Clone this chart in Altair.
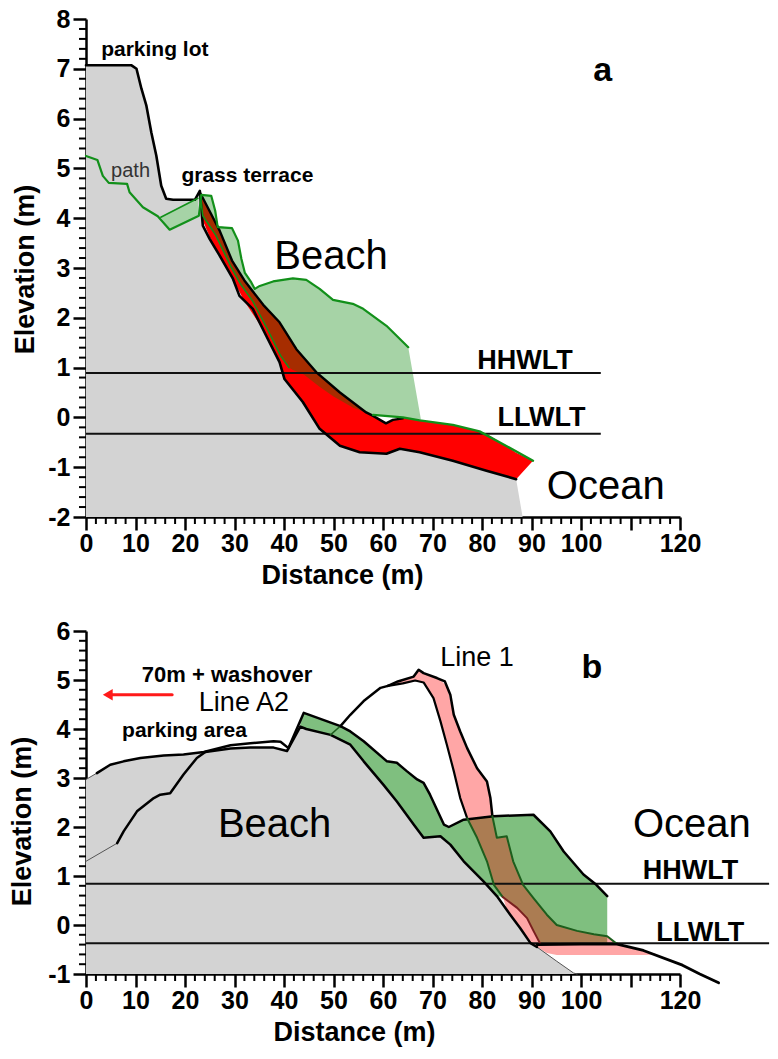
import altair as alt
import pandas as pd

FONT = "Liberation Sans"

# ---------------- axis ticks ----------------
X_MAJOR = [0, 10, 20, 30, 40, 50, 60, 70, 80, 90, 100, 110, 120]
X_MINOR = [v for v in range(2, 120, 2) if v % 10 != 0]
A_Y_MAJOR = [-2, -1, 0, 1, 2, 3, 4, 5, 6, 7, 8]
A_Y_MINOR = [round(-2 + 0.2 * k, 1) for k in range(1, 50) if k % 5 != 0]
B_Y_MAJOR = [-1, 0, 1, 2, 3, 4, 5, 6]
B_Y_MINOR = [round(-1 + 0.2 * k, 1) for k in range(1, 35) if k % 5 != 0]

# ---------------- panel a data ----------------
A_L_X = [0, 9.2, 10.2, 11.2, 12.2, 13.2, 14.2, 15.2, 16.2, 17.6, 22.0, 23.0, 23.6, 25.0, 27.0, 29.7,
         31.0, 33.7, 36.4, 39.1, 40.1, 43.8, 47.2, 51.3, 55.3, 60.7, 63.4, 67.4, 74.1, 80.9, 86.9]
A_L_Y = [7.07, 7.07, 7.0, 6.6, 6.26, 5.72, 5.26, 4.65, 4.39, 4.37, 4.37, 4.55, 3.85, 3.58, 3.25, 2.78,
         2.44, 2.18, 1.64, 1.11, 0.77, 0.31, -0.23, -0.57, -0.70, -0.73, -0.63, -0.70, -0.87, -1.07, -1.24]
A_GRAY_END_X = [88.2]
A_GRAY_END_Y = [-2.0]

A_RED_X = [23.0, 23.4, 25.3, 27.0, 29.5, 32.0, 35.8, 39.1, 40.1, 42.5, 43.8, 46.5, 47.2, 51.3, 55.3,
           56.6, 58.0, 60.6, 62.0, 63.4, 64.0, 67.4, 74.1, 79.5, 80.9, 85.0, 86.9, 90.3]
A_RED_TOP = [4.55, 4.42, 4.08, 3.75, 3.15, 2.75, 2.26, 1.91, 1.75, 1.37, 1.22, 0.91, 0.85, 0.50, 0.20,
             0.10, 0.03, -0.12, -0.05, -0.03, 0.0, -0.06, -0.15, -0.28, -0.33, -0.58, -0.71, -0.87]
A_RED_BOT = [4.55, 4.0, 3.55, 3.25, 2.8, 2.33, 1.76, 1.11, 0.77, 0.45, 0.31, -0.12, -0.23, -0.57, -0.70,
             -0.71, -0.72, -0.73, -0.68, -0.63, -0.64, -0.70, -0.87, -1.03, -1.07, -1.19, -1.24, -0.87]

A_GRN_X = [23.1, 23.6, 25.3, 26.2, 26.6, 29.3, 30.7, 31.4, 32.1, 33.4, 34.1, 35.1, 36.4, 37.8, 39.3,
           41.0, 41.8, 44.0, 47.1, 50.0, 53.9, 56.0, 58.0, 60.7, 64.0, 65.1, 67.7]
A_GRN_TOP = [4.45, 4.46, 4.44, 4.15, 3.85, 3.8, 3.55, 3.18, 2.9, 2.71, 2.58, 2.64, 2.69, 2.73, 2.76,
             2.78, 2.79, 2.77, 2.6, 2.36, 2.28, 2.18, 2.05, 1.84, 1.52, 1.41, -0.06]
A_GRN_BOT = [4.45, 4.05, 3.8, 3.66, 3.58, 3.02, 2.78, 2.66, 2.55, 2.38, 2.28, 2.08, 1.82, 1.55, 1.24,
             1.0, 0.95, 0.86, 0.62, 0.42, 0.2, 0.12, 0.05, 0.02, 0.0, -0.01, -0.06]

A_PATH_X = [15.1, 16.9, 22.6]
A_PATH_TOP = [4.02, 4.12, 4.4]
A_PATH_BOT = [4.02, 3.77, 4.05]

A_U_X = [23.1, 25.3, 27.0, 29.5, 32.0, 35.8, 39.1, 42.5, 46.5, 51.3, 56.6, 58.0, 60.6, 62.0, 64.0]
A_U_Y = [4.5, 4.08, 3.75, 3.15, 2.75, 2.26, 1.91, 1.37, 0.91, 0.50, 0.10, 0.03, -0.12, -0.05, -0.02]

A_GL_X = [0.0, 2.3, 3.4, 4.6, 8.3, 8.8, 11.5, 14.5, 16.9, 22.8, 23.3, 25.3, 26.1, 26.6, 29.5, 30.7,
          31.4, 32.1, 33.4, 34.1, 35.1, 37.8, 41.8, 44.5, 47.2, 49.9, 53.9, 56.0, 60.7, 65.1]
A_GL_Y = [5.25, 5.17, 4.85, 4.71, 4.69, 4.52, 4.22, 4.04, 3.77, 4.05, 4.47, 4.45, 4.15, 3.82, 3.8, 3.55,
          3.18, 2.9, 2.71, 2.58, 2.64, 2.73, 2.79, 2.76, 2.58, 2.36, 2.28, 2.18, 1.84, 1.41]
A_D_X = [23.1, 23.6, 26.2, 29.3, 31.2, 33.7, 36.4, 39.3, 41.0]
A_D_Y = [4.45, 4.05, 3.66, 3.02, 2.68, 2.33, 1.82, 1.24, 1.0]
A_UG_X = [58.0, 64.0, 67.4, 74.1, 79.5, 85.0, 90.3]
A_UG_Y = [0.05, 0.0, -0.06, -0.15, -0.28, -0.58, -0.87]
A_T_X = [15.1, 22.6]
A_T_Y = [4.02, 4.4]

A_TIDE_Y = [0.89, -0.33]
A_TIDE_END = 104

A_SMALL_T = ["parking lot", "grass terrace"]
A_SMALL_X = [13.9, 32.6]
A_SMALL_Y = [7.38, 4.85]
A_PATH_T = ["path"]
A_PATH_TX = [9.0]
A_PATH_TY = [4.95]
A_BIG_T = ["Beach", "Ocean"]
A_BIG_X = [49.5, 105.0]
A_BIG_Y = [3.22, -1.4]
A_TIDE_T = ["HHWLT", "LLWLT"]
A_TIDE_TX = [88.7, 92.0]
A_TIDE_TY = [1.14, -0.02]
A_LETTER = ["a"]
A_LETTER_X = [104.4]
A_LETTER_Y = [6.95]

# ---------------- panel b data ----------------
B_GRAY_X = [0, 2.2, 4.9, 7.6, 11.0, 15.7, 19.7, 24.1, 29.2, 33.2, 37.9, 40.6, 43.3, 44.5, 49.4, 53.4,
            56.1, 60.1, 62.8, 66.2, 68.2, 71.6, 73.6, 76.3, 80.3, 83.0, 85.7, 87.7, 89.8, 92.5, 95.1, 98.5, 99.2]
B_GRAY_Y = [2.97, 3.10, 3.27, 3.34, 3.41, 3.46, 3.48, 3.53, 3.60, 3.62, 3.62, 3.55, 4.05, 4.00, 3.88, 3.68,
            3.34, 2.86, 2.52, 2.05, 1.78, 1.81, 1.64, 1.30, 0.89, 0.59, 0.21, -0.06, -0.37, -0.54, -0.74, -0.98, -1.0]

B_GRN_X = [43.3, 44.0, 44.5, 49.4, 51.4, 53.4, 56.1, 60.1, 60.8, 62.8, 64.8, 66.2, 66.9, 68.2, 69.5,
           71.6, 72.3, 73.3, 73.6, 76.3, 80.3, 82.3, 83.0, 84.2, 87.1, 89.1, 90.4, 91.8, 93.8, 96.5,
           100.5, 103.1, 105.3]
B_GRN_TOP = [4.12, 4.33, 4.31, 4.13, 4.06, 3.95, 3.75, 3.4, 3.34, 3.31, 3.14, 3.03, 2.97, 2.90, 2.66,
             2.2, 2.05, 2.0, 2.02, 2.15, 2.2, 2.22, 2.22, 2.23, 2.24, 2.25, 2.25, 2.11, 1.91, 1.5,
             1.03, 0.82, 0.59]
B_GRN_BOT = [4.05, 4.02, 4.0, 3.88, 3.78, 3.68, 3.34, 2.86, 2.78, 2.52, 2.24, 2.05, 1.95, 1.78, 1.79,
             1.81, 1.75, 1.67, 1.64, 1.30, 0.89, 0.67, 0.59, 0.57, 0.35, 0.14, -0.12, -0.37, -0.37, -0.37,
             -0.37, -0.37, -0.37]

B_PINK_X = [61.0, 63.0, 66.2, 67.2, 68.2, 70.2, 71.6, 72.9, 74.3, 75.6, 77.0, 79.0, 81.0, 81.7, 82.1,
            83.0, 84.2, 85.0, 86.3, 87.7, 88.3, 89.8, 90.4, 91.1, 93.1, 95.1, 99.2, 102.6, 105.3, 107.3,
            112.6, 115.5]
B_PINK_TOP = [4.88, 4.97, 5.07, 5.21, 5.14, 5.07, 5.0, 4.87, 4.29, 3.95, 3.61, 3.20, 2.93, 2.59, 2.22,
              1.78, 1.80, 1.81, 1.30, 0.95, 0.82, 0.62, 0.55, 0.45, 0.21, 0.0, -0.12, -0.19, -0.23, -0.39,
              -0.52, -0.60]
B_PINK_BOT = [4.88, 4.91, 4.98, 4.97, 4.95, 4.63, 4.16, 3.68, 3.14, 2.59, 2.18, 1.78, 1.30, 1.1, 0.9,
              0.72, 0.57, 0.32, 0.13, -0.06, -0.15, -0.37, -0.41, -0.45, -0.57, -0.61, -0.61, -0.61, -0.61, -0.61,
              -0.61, -0.60]

B_TOP_X = [2.2, 4.9, 7.6, 11.0, 15.7, 19.7, 23.8, 29.2, 33.2, 37.9, 39.3, 40.9, 44.0, 51.4, 53.4, 56.1,
           60.8, 62.8, 64.8, 66.9, 68.2, 69.5, 72.3, 73.3, 76.3, 82.3, 90.4, 93.8, 96.5, 100.5, 103.1, 105.3]
B_TOP_Y = [3.10, 3.27, 3.34, 3.41, 3.46, 3.48, 3.53, 3.67, 3.71, 3.75, 3.74, 3.61, 4.33, 4.06, 3.95, 3.75,
           3.34, 3.31, 3.14, 2.97, 2.90, 2.66, 2.05, 2.00, 2.15, 2.22, 2.25, 1.91, 1.50, 1.03, 0.82, 0.59]
B_TOP_THIN_X = [0, 2.2]
B_TOP_THIN_Y = [2.97, 3.10]
B_GT_X = [24.1, 29.2, 33.2, 37.9, 40.6, 43.3, 44.5, 49.4, 53.4, 56.1, 60.1, 62.8, 66.2, 68.2, 71.6, 73.6,
          76.3, 80.3, 83.0, 85.7, 87.7, 89.8, 91.1]
B_GT_Y = [3.53, 3.60, 3.62, 3.62, 3.55, 4.05, 4.00, 3.88, 3.68, 3.34, 2.86, 2.52, 2.05, 1.78, 1.81, 1.64,
          1.30, 0.89, 0.59, 0.21, -0.06, -0.37, -0.45]
B_GT_TAIL_X = [91.1, 95.1, 98.5, 99.2]
B_GT_TAIL_Y = [-0.45, -0.74, -0.98, -1.0]
B_RISE_X = [6.3, 7.6, 10.3, 13.7, 15.0, 17.0, 19.7, 22.4, 24.1]
B_RISE_Y = [1.67, 1.91, 2.32, 2.59, 2.66, 2.69, 3.07, 3.41, 3.53]
B_RISE_THIN_X = [0, 6.3]
B_RISE_THIN_Y = [1.30, 1.67]
B_L1_X = [51.4, 53.4, 56.1, 59.5, 61.0]
B_L1_Y = [4.06, 4.29, 4.57, 4.84, 4.88]
B_CONN_X = [49.4, 51.4]
B_CONN_Y = [3.88, 4.06]
B_PR_X = [61.0, 63.0, 66.2, 67.2, 68.2, 70.9, 72.5, 73.6, 74.3, 75.6, 77.0, 79.0, 81.0, 81.7, 82.1]
B_PR_Y = [4.88, 4.97, 5.07, 5.21, 5.14, 5.04, 4.97, 4.70, 4.29, 3.95, 3.61, 3.20, 2.93, 2.59, 2.22]
B_PR_LOW_X = [82.1, 83.0, 85.0, 86.3, 88.3, 90.4, 93.1, 95.1, 99.2, 102.6, 105.3, 107.3]
B_PR_LOW_Y = [2.22, 1.78, 1.81, 1.30, 0.82, 0.55, 0.21, 0.0, -0.12, -0.19, -0.23, -0.39]
B_PL_X = [61.0, 64.0, 66.5, 68.2, 70.2, 71.6, 72.9, 74.3, 75.6, 77.0]
B_PL_Y = [4.88, 4.93, 4.99, 4.95, 4.63, 4.16, 3.68, 3.14, 2.59, 2.18]
B_PL_LOW_X = [77.0, 79.0, 81.0, 82.4, 84.2]
B_PL_LOW_Y = [2.18, 1.78, 1.30, 0.82, 0.57]
B_GB_X = [84.2, 87.1, 89.1, 90.4, 91.8]
B_GB_Y = [0.57, 0.35, 0.14, -0.12, -0.39]
B_T2_X = [91.1, 100.0, 107.3, 112.6, 120.5, 124.0, 127.8]
B_T2_Y = [-0.40, -0.39, -0.39, -0.52, -0.82, -1.00, -1.18]

B_TIDE_Y = [0.84, -0.37]
B_TIDE_END = 138

B_ARROW_X = [5.0, 17.4]
B_ARROW_Y = [4.70, 4.70]
B_HEAD_X = [4.4]
B_HEAD_Y = [4.70]

B_WASH_T = ["70m + washover"]
B_WASH_X = [28.5]
B_WASH_Y = [5.11]
B_SMALL_T = ["parking area"]
B_SMALL_X = [19.9]
B_SMALL_Y = [3.95]
B_LINE_T = ["Line A2", "Line 1"]
B_LINE_X = [31.9, 79.0]
B_LINE_Y = [4.53, 5.45]
B_BIG_T = ["Beach", "Ocean"]
B_BIG_X = [38.1, 122.4]
B_BIG_Y = [2.05, 2.05]
B_TIDE_T = ["HHWLT", "LLWLT"]
B_TIDE_TX = [122.1, 124.1]
B_TIDE_TY = [1.10, -0.16]
B_LETTER = ["b"]
B_LETTER_X = [102.2]
B_LETTER_Y = [5.24]


# ---------------- helpers ----------------
def encs(ydom, yvals, ytitle_x, ytitle_y, xtitle_x):
    X = alt.X("x:Q", scale=alt.Scale(domain=[0, 120], nice=False, zero=False),
              axis=alt.Axis(values=X_MAJOR, labelExpr="datum.value == 110 ? '' : datum.label",
                            title="Distance (m)", titleX=xtitle_x, titleY=58, titleAlign="center",
                            titleBaseline="middle", tickSize=13, labelPadding=1,
                            labelOverlap=False, labelFlush=False))
    Y = alt.Y("y:Q", scale=alt.Scale(domain=ydom, nice=False, zero=False),
              axis=alt.Axis(values=yvals,
                            labelExpr="datum.value < 0 ? '-' + abs(datum.value) : datum.label",
                            title="Elevation (m)", titleX=ytitle_x, titleY=ytitle_y, titleAngle=-90,
                            titleAlign="center", titleBaseline="middle", tickSize=13, labelPadding=3,
                            labelOverlap=False, labelFlush=False))
    return X, Y


def area(X, Y, xs, top, bot, color, opacity=1.0):
    d = pd.DataFrame({"x": xs, "y": top, "y2": bot})
    return alt.Chart(d).mark_area(color=color, opacity=opacity, orient="vertical",
                                  interpolate="linear").encode(x=X, y=Y, y2="y2:Q")


def line(X, Y, xs, ys, color, width):
    d = pd.DataFrame({"x": xs, "y": ys, "i": list(range(len(xs)))})
    return alt.Chart(d).mark_line(color=color, strokeWidth=width, strokeJoin="round",
                                  strokeCap="round").encode(x=X, y=Y, order="i:Q")


def texts(X, Y, labels, xs, ys, size, weight="normal", color="black"):
    d = pd.DataFrame({"x": xs, "y": ys, "t": labels})
    return alt.Chart(d).mark_text(font=FONT, fontSize=size, fontWeight=weight, color=color,
                                  align="center", baseline="middle").encode(x=X, y=Y, text="t:N")


def minor_ticks(X, Y, height, ymin):
    tx = alt.Chart(pd.DataFrame({"x": X_MINOR})).mark_rule(color="black", strokeWidth=2).encode(
        x=X, y=alt.value(height), y2=alt.value(height + 7))
    ty = alt.Chart(pd.DataFrame({"y": ymin})).mark_rule(color="black", strokeWidth=2).encode(
        y=Y, x=alt.value(0), x2=alt.value(-7))
    return [tx, ty]


def tide(X, Y, yv, x_end):
    d = pd.DataFrame({"x": [0] * len(yv), "x2": [x_end] * len(yv), "y": yv})
    return alt.Chart(d).mark_rule(color="#111111", strokeWidth=2).encode(x=X, x2="x2:Q", y=Y)


# ---------------- panel a ----------------
AH = 498
XA, YA = encs([-2, 8], A_Y_MAJOR, -61, 250, 256)
GREEN_LINE = "#12901a"
layers_a = [
    area(XA, YA, A_L_X + A_GRAY_END_X, A_L_Y + A_GRAY_END_Y, [-2.0] * (len(A_L_X) + 1), "#d3d3d3"),
    area(XA, YA, A_RED_X, A_RED_TOP, A_RED_BOT, "#ff0000"),
    area(XA, YA, A_PATH_X, A_PATH_TOP, A_PATH_BOT, "#a6d3a6"),
    area(XA, YA, A_GRN_X, A_GRN_TOP, A_GRN_BOT, "#008000", 0.35),
    tide(XA, YA, A_TIDE_Y, A_TIDE_END),
    texts(XA, YA, A_PATH_T, A_PATH_TX, A_PATH_TY, 20, "normal", "#333333"),
    line(XA, YA, A_L_X, A_L_Y, "black", 2.6),
    line(XA, YA, A_U_X, A_U_Y, "black", 2.4),
    line(XA, YA, A_D_X, A_D_Y, GREEN_LINE, 1.6),
    line(XA, YA, A_T_X, A_T_Y, GREEN_LINE, 1.6),
    line(XA, YA, A_GL_X, A_GL_Y, GREEN_LINE, 2.2),
    line(XA, YA, A_UG_X, A_UG_Y, GREEN_LINE, 2.4),
    texts(XA, YA, A_SMALL_T, A_SMALL_X, A_SMALL_Y, 21, "bold"),
    texts(XA, YA, A_BIG_T, A_BIG_X, A_BIG_Y, 40),
    texts(XA, YA, A_TIDE_T, A_TIDE_TX, A_TIDE_TY, 27, "bold"),
    texts(XA, YA, A_LETTER, A_LETTER_X, A_LETTER_Y, 34, "bold"),
] + minor_ticks(XA, YA, AH, A_Y_MINOR)
chart_a = alt.layer(*layers_a).properties(width=594, height=AH)

# ---------------- panel b ----------------
BH = 343
XB, YB = encs([-1, 6], B_Y_MAJOR, -64, 190, 268)
DARK_GREEN = "#1d5e1d"
layers_b = [
    area(XB, YB, B_GRAY_X, B_GRAY_Y, [-1.0] * len(B_GRAY_X), "#d3d3d3"),
    area(XB, YB, B_GRN_X, B_GRN_TOP, B_GRN_BOT, "#008000", 0.5),
    area(XB, YB, B_PINK_X, B_PINK_TOP, B_PINK_BOT, "#ff0000", 0.35),
    tide(XB, YB, B_TIDE_Y, B_TIDE_END),
    line(XB, YB, B_TOP_THIN_X, B_TOP_THIN_Y, "#555555", 1),
    line(XB, YB, B_RISE_THIN_X, B_RISE_THIN_Y, "#555555", 1),
    line(XB, YB, B_GT_TAIL_X, B_GT_TAIL_Y, "#555555", 1),
    line(XB, YB, B_TOP_X, B_TOP_Y, "black", 2.5),
    line(XB, YB, B_GT_X, B_GT_Y, "black", 2.5),
    line(XB, YB, B_RISE_X, B_RISE_Y, "black", 2.5),
    line(XB, YB, B_CONN_X, B_CONN_Y, DARK_GREEN, 1.5),
    line(XB, YB, B_L1_X, B_L1_Y, "black", 2.5),
    line(XB, YB, B_PR_X, B_PR_Y, "black", 2.5),
    line(XB, YB, B_PL_X, B_PL_Y, "black", 2.2),
    line(XB, YB, B_PR_LOW_X, B_PR_LOW_Y, DARK_GREEN, 2),
    line(XB, YB, B_PL_LOW_X, B_PL_LOW_Y, DARK_GREEN, 2),
    line(XB, YB, B_GB_X, B_GB_Y, "#7a1f1f", 2),
    line(XB, YB, B_T2_X, B_T2_Y, "black", 2.8),
    line(XB, YB, B_ARROW_X, B_ARROW_Y, "#ff1a1a", 3),
    alt.Chart(pd.DataFrame({"x": B_HEAD_X, "y": B_HEAD_Y})).mark_point(
        shape="triangle-left", filled=True, color="#ff1a1a", size=130, opacity=1).encode(x=XB, y=YB),
    texts(XB, YB, B_WASH_T, B_WASH_X, B_WASH_Y, 22, "bold"),
    texts(XB, YB, B_SMALL_T, B_SMALL_X, B_SMALL_Y, 21, "bold"),
    texts(XB, YB, B_LINE_T, B_LINE_X, B_LINE_Y, 27),
    texts(XB, YB, B_BIG_T, B_BIG_X, B_BIG_Y, 40),
    texts(XB, YB, B_TIDE_T, B_TIDE_TX, B_TIDE_TY, 27, "bold"),
    texts(XB, YB, B_LETTER, B_LETTER_X, B_LETTER_Y, 34, "bold"),
] + minor_ticks(XB, YB, BH, B_Y_MINOR)
chart_b = alt.layer(*layers_b).properties(width=594, height=BH)

chart = alt.vconcat(chart_a, chart_b, spacing=31).properties(
    padding={"left": 8, "top": 7, "right": 2, "bottom": 2}
).configure_view(strokeWidth=0).configure_axis(
    grid=False, domainColor="black", domainWidth=2.5, tickColor="black", tickWidth=2.5,
    labelFont=FONT, labelFontSize=25, labelFontWeight="bold", labelColor="black",
    titleFont=FONT, titleFontSize=27, titleFontWeight="bold", titleColor="black"
)

chart.save("out.html", embed_options={"renderer": "svg", "actions": False})
